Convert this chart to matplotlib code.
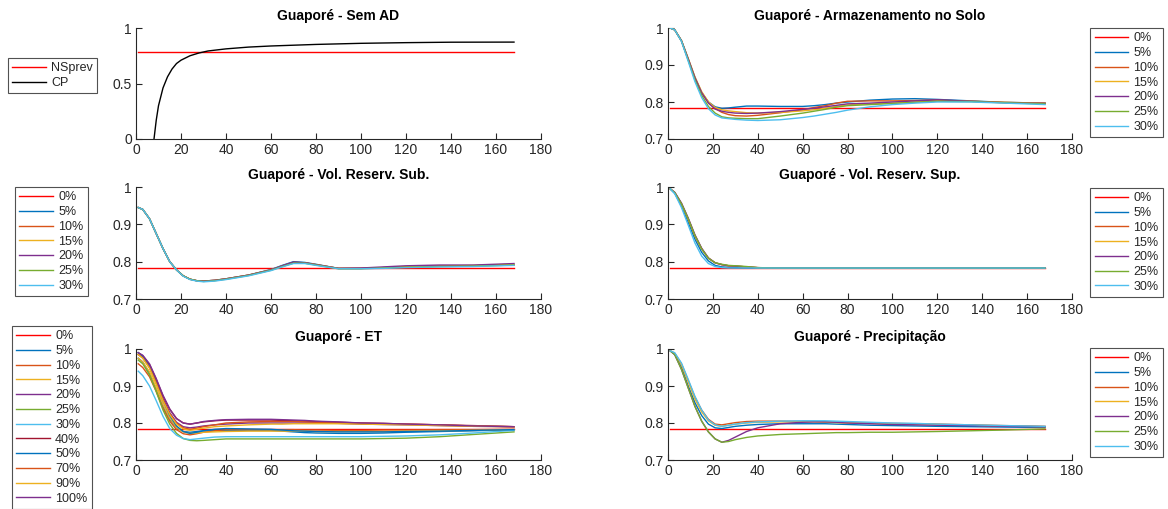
import matplotlib
matplotlib.use('Agg')
import matplotlib.pyplot as plt
from matplotlib.ticker import FormatStrFormatter

plt.rcParams['font.family'] = ['Liberation Sans', 'DejaVu Sans']

# matlab default color order
c_blue = '#0072BD'
c_orange = '#D95319'
c_yellow = '#EDB120'
c_purple = '#7E2F8E'
c_green = '#77AC30'
c_lblue = '#4DBEEE'
c_dred = '#A2142F'

ns_prev = 0.783

# ---- Sem AD
cp_x = [8, 9, 10, 12, 14, 16, 18, 20, 24, 28, 32, 40, 50, 60, 80, 100, 120, 140, 168]
cp_y = [0.0, 0.17, 0.3, 0.46, 0.56, 0.63, 0.68, 0.71, 0.75, 0.775, 0.793, 0.812, 0.828,
        0.838, 0.852, 0.862, 0.868, 0.872, 0.873]

# common hour axis for the other panels
t = [1, 3, 6, 9, 12, 15, 18, 21, 24, 27, 30, 35, 40, 50, 60, 65, 70, 75, 80, 90, 100,
     110, 120, 135, 150, 168]
t_ns = [1, 168]

labels7 = ['0%', '5%', '10%', '15%', '20%', '25%', '30%']
labels12 = ['0%', '5%', '10%', '15%', '20%', '25%', '30%', '40%', '50%', '70%', '90%', '100%']

# ---- Armazenamento no Solo
solo_05 = [1.0, 0.995, 0.965, 0.915, 0.865, 0.825, 0.80, 0.787, 0.783, 0.784, 0.786, 0.789, 0.789,
           0.788, 0.788, 0.79, 0.793, 0.797, 0.80, 0.805, 0.808, 0.809, 0.807, 0.803, 0.799, 0.797]
solo_10 = [1.0, 0.995, 0.965, 0.915, 0.865, 0.825, 0.80, 0.782, 0.772, 0.766, 0.763, 0.762, 0.764,
           0.771, 0.779, 0.785, 0.79, 0.797, 0.802, 0.803, 0.803, 0.804, 0.805, 0.802, 0.799, 0.797]
solo_15 = [1.0, 0.995, 0.966, 0.918, 0.868, 0.828, 0.80, 0.785, 0.779, 0.776, 0.774, 0.771, 0.77,
           0.772, 0.776, 0.779, 0.783, 0.788, 0.792, 0.795, 0.797, 0.80, 0.803, 0.802, 0.799, 0.796]
solo_20 = [1.0, 0.995, 0.966, 0.917, 0.866, 0.825, 0.797, 0.781, 0.775, 0.772, 0.77, 0.769, 0.77,
           0.774, 0.78, 0.783, 0.787, 0.791, 0.795, 0.797, 0.80, 0.803, 0.806, 0.802, 0.798, 0.796]
solo_25 = [1.0, 0.995, 0.965, 0.913, 0.86, 0.818, 0.788, 0.77, 0.76, 0.757, 0.756, 0.755, 0.755,
           0.762, 0.77, 0.775, 0.78, 0.786, 0.79, 0.793, 0.796, 0.799, 0.802, 0.801, 0.798, 0.795]
solo_30 = [1.0, 0.995, 0.964, 0.91, 0.855, 0.812, 0.782, 0.765, 0.757, 0.755, 0.753, 0.751, 0.75,
           0.752, 0.758, 0.762, 0.767, 0.772, 0.778, 0.787, 0.793, 0.797, 0.80, 0.80, 0.797, 0.793]

# ---- Vol. Reserv. Sub.
sub_05 = [0.945, 0.94, 0.915, 0.875, 0.835, 0.80, 0.778, 0.762, 0.753, 0.749, 0.748, 0.75, 0.754,
          0.764, 0.779, 0.79, 0.80, 0.798, 0.793, 0.782, 0.782, 0.784, 0.786, 0.788, 0.789, 0.792]
sub_10 = [0.945, 0.94, 0.915, 0.875, 0.835, 0.80, 0.778, 0.762, 0.753, 0.749, 0.748, 0.75, 0.754,
          0.764, 0.778, 0.788, 0.798, 0.797, 0.792, 0.782, 0.782, 0.784, 0.786, 0.788, 0.789, 0.792]
sub_15 = [0.945, 0.94, 0.915, 0.875, 0.835, 0.80, 0.778, 0.762, 0.753, 0.749, 0.748, 0.75, 0.754,
          0.764, 0.778, 0.788, 0.797, 0.796, 0.792, 0.782, 0.782, 0.784, 0.786, 0.788, 0.79, 0.793]
sub_20 = [0.945, 0.94, 0.915, 0.875, 0.835, 0.80, 0.778, 0.762, 0.753, 0.749, 0.748, 0.75, 0.754,
          0.764, 0.778, 0.789, 0.799, 0.797, 0.792, 0.782, 0.783, 0.786, 0.789, 0.791, 0.791, 0.795]
sub_25 = [0.945, 0.94, 0.915, 0.875, 0.835, 0.80, 0.778, 0.762, 0.753, 0.749, 0.747, 0.749, 0.753,
          0.763, 0.777, 0.787, 0.796, 0.796, 0.791, 0.781, 0.781, 0.783, 0.785, 0.787, 0.788, 0.791]
sub_30 = [0.945, 0.94, 0.915, 0.875, 0.835, 0.80, 0.778, 0.761, 0.752, 0.748, 0.746, 0.748, 0.752,
          0.762, 0.776, 0.786, 0.795, 0.795, 0.79, 0.781, 0.781, 0.782, 0.784, 0.786, 0.787, 0.79]

# ---- Vol. Reserv. Sup.
sup_05 = [0.995, 0.983, 0.95, 0.905, 0.86, 0.825, 0.802, 0.79, 0.786, 0.785, 0.784, 0.783, 0.783,
          0.783, 0.783, 0.783, 0.783, 0.783, 0.783, 0.783, 0.783, 0.783, 0.783, 0.783, 0.783, 0.783]
sup_10 = [0.995, 0.985, 0.955, 0.914, 0.869, 0.834, 0.809, 0.797, 0.792, 0.789, 0.788, 0.786, 0.784,
          0.783, 0.783, 0.783, 0.783, 0.783, 0.783, 0.783, 0.783, 0.783, 0.783, 0.783, 0.783, 0.783]
sup_15 = [0.995, 0.985, 0.955, 0.915, 0.87, 0.835, 0.81, 0.797, 0.792, 0.789, 0.788, 0.786, 0.784,
          0.783, 0.783, 0.783, 0.783, 0.783, 0.783, 0.783, 0.783, 0.783, 0.783, 0.783, 0.783, 0.783]
sup_20 = [0.995, 0.986, 0.957, 0.917, 0.872, 0.836, 0.81, 0.797, 0.792, 0.789, 0.788, 0.786, 0.784,
          0.783, 0.783, 0.783, 0.783, 0.783, 0.783, 0.783, 0.783, 0.783, 0.783, 0.783, 0.783, 0.783]
sup_25 = [0.995, 0.985, 0.955, 0.915, 0.87, 0.834, 0.809, 0.797, 0.793, 0.79, 0.789, 0.787, 0.784,
          0.783, 0.783, 0.783, 0.783, 0.783, 0.783, 0.783, 0.783, 0.783, 0.783, 0.783, 0.783, 0.783]
sup_30 = [0.995, 0.982, 0.945, 0.898, 0.85, 0.815, 0.795, 0.787, 0.784, 0.783, 0.783, 0.783, 0.783,
          0.783, 0.783, 0.783, 0.783, 0.783, 0.783, 0.783, 0.783, 0.783, 0.783, 0.783, 0.783, 0.783]

# ---- ET
et_05 = [0.975, 0.965, 0.935, 0.89, 0.845, 0.81, 0.787, 0.777, 0.775, 0.777, 0.779, 0.78, 0.78,
         0.78, 0.78, 0.778, 0.776, 0.774, 0.773, 0.772, 0.772, 0.773, 0.775, 0.777, 0.779, 0.782]
et_10 = [0.96, 0.95, 0.925, 0.885, 0.84, 0.805, 0.782, 0.771, 0.768, 0.771, 0.775, 0.779, 0.782,
         0.782, 0.782, 0.782, 0.782, 0.781, 0.781, 0.78, 0.78, 0.781, 0.781, 0.782, 0.782, 0.783]
et_15 = [0.975, 0.965, 0.938, 0.895, 0.85, 0.813, 0.788, 0.776, 0.772, 0.773, 0.775, 0.776, 0.777,
         0.778, 0.778, 0.778, 0.778, 0.778, 0.777, 0.777, 0.777, 0.777, 0.778, 0.779, 0.78, 0.782]
et_20 = [0.985, 0.978, 0.952, 0.91, 0.865, 0.828, 0.802, 0.79, 0.787, 0.789, 0.792, 0.795, 0.797,
         0.80, 0.80, 0.80, 0.80, 0.80, 0.80, 0.799, 0.797, 0.796, 0.795, 0.793, 0.791, 0.79]
et_25 = [0.97, 0.96, 0.93, 0.885, 0.835, 0.797, 0.772, 0.758, 0.753, 0.752, 0.753, 0.755, 0.757,
         0.757, 0.757, 0.757, 0.757, 0.757, 0.757, 0.757, 0.757, 0.758, 0.759, 0.763, 0.769, 0.776]
et_30 = [0.94, 0.928, 0.9, 0.86, 0.818, 0.785, 0.767, 0.758, 0.755, 0.757, 0.759, 0.762, 0.763,
         0.763, 0.763, 0.763, 0.763, 0.763, 0.763, 0.763, 0.763, 0.764, 0.765, 0.768, 0.773, 0.78]
et_40 = [0.99, 0.982, 0.958, 0.918, 0.873, 0.837, 0.812, 0.80, 0.797, 0.80, 0.803, 0.806, 0.808,
         0.808, 0.808, 0.807, 0.806, 0.805, 0.804, 0.802, 0.80, 0.799, 0.797, 0.795, 0.793, 0.79]
et_50 = [0.99, 0.98, 0.952, 0.908, 0.86, 0.82, 0.792, 0.777, 0.772, 0.775, 0.779, 0.783, 0.785,
         0.784, 0.783, 0.781, 0.779, 0.778, 0.777, 0.776, 0.776, 0.776, 0.777, 0.778, 0.78, 0.782]
et_70 = [0.985, 0.976, 0.95, 0.908, 0.862, 0.825, 0.80, 0.787, 0.783, 0.786, 0.79, 0.795, 0.80,
         0.803, 0.804, 0.804, 0.804, 0.803, 0.802, 0.80, 0.799, 0.798, 0.797, 0.795, 0.792, 0.79]
et_90 = [0.985, 0.975, 0.948, 0.905, 0.86, 0.823, 0.797, 0.784, 0.78, 0.783, 0.786, 0.79, 0.792,
         0.795, 0.797, 0.797, 0.798, 0.798, 0.798, 0.798, 0.797, 0.796, 0.795, 0.793, 0.791, 0.79]
et_100 = [0.99, 0.983, 0.96, 0.92, 0.875, 0.838, 0.812, 0.80, 0.797, 0.80, 0.804, 0.807, 0.809,
          0.81, 0.81, 0.809, 0.808, 0.807, 0.805, 0.803, 0.80, 0.799, 0.797, 0.795, 0.792, 0.79]

# ---- Precipitacao
pr_05 = [0.995, 0.985, 0.95, 0.90, 0.855, 0.82, 0.797, 0.787, 0.785, 0.788, 0.791, 0.794, 0.796,
         0.798, 0.798, 0.798, 0.798, 0.797, 0.796, 0.794, 0.793, 0.792, 0.791, 0.79, 0.789, 0.788]
pr_10 = [0.995, 0.988, 0.96, 0.915, 0.87, 0.835, 0.81, 0.797, 0.795, 0.798, 0.801, 0.804, 0.805,
         0.805, 0.804, 0.804, 0.803, 0.802, 0.801, 0.80, 0.799, 0.798, 0.797, 0.795, 0.793, 0.791]
pr_15 = [0.995, 0.988, 0.958, 0.912, 0.865, 0.83, 0.806, 0.794, 0.791, 0.794, 0.797, 0.80, 0.802,
         0.803, 0.803, 0.803, 0.802, 0.801, 0.80, 0.799, 0.798, 0.797, 0.796, 0.794, 0.792, 0.79]
pr_20 = [0.995, 0.985, 0.945, 0.895, 0.845, 0.805, 0.776, 0.757, 0.748, 0.753, 0.762, 0.777, 0.787,
         0.798, 0.802, 0.803, 0.803, 0.802, 0.80, 0.798, 0.796, 0.795, 0.794, 0.793, 0.791, 0.79]
pr_25 = [0.995, 0.985, 0.945, 0.895, 0.845, 0.805, 0.776, 0.757, 0.748, 0.75, 0.755, 0.761, 0.765,
         0.769, 0.771, 0.772, 0.773, 0.774, 0.774, 0.775, 0.775, 0.776, 0.777, 0.779, 0.781, 0.784]
pr_30 = [0.995, 0.99, 0.962, 0.918, 0.872, 0.835, 0.808, 0.795, 0.791, 0.794, 0.797, 0.801, 0.803,
         0.805, 0.806, 0.806, 0.806, 0.805, 0.804, 0.802, 0.80, 0.799, 0.797, 0.795, 0.793, 0.791]

colors7 = ['red', c_blue, c_orange, c_yellow, c_purple, c_green, c_lblue]
colors12 = colors7 + [c_dred, c_blue, c_orange, c_yellow, c_purple]

W, H = 1168, 509
fig = plt.figure(figsize=(W / 100, H / 100), dpi=100)


def px_axes(x0, x1, y0, y1):
    return fig.add_axes([x0 / W, 1 - y1 / H, (x1 - x0) / W, (y1 - y0) / H])


def style(ax, title, ylim, yticks):
    ax.set_xlim(0, 180)
    ax.set_xticks(range(0, 181, 20))
    ax.set_ylim(*ylim)
    ax.set_yticks(yticks)
    ax.yaxis.set_major_formatter(FormatStrFormatter('%g'))
    for s in ['top', 'right']:
        ax.spines[s].set_visible(False)
    for s in ['left', 'bottom']:
        ax.spines[s].set_color('#262626')
        ax.spines[s].set_linewidth(0.8)
    ax.tick_params(direction='in', length=4, width=0.8, colors='#262626', labelsize=10, pad=3)
    ax.set_title(title, fontsize=10, fontweight='bold', pad=6)


def put_legend(ax, x0, y0, loc='upper left'):
    leg = ax.legend(loc=loc, bbox_to_anchor=(x0 / W, 1 - y0 / H),
                    bbox_transform=fig.transFigure, fontsize=9, frameon=True, fancybox=False,
                    edgecolor='#262626', handlelength=2.7, handletextpad=0.4, labelspacing=0.22,
                    borderpad=0.35, borderaxespad=0)
    leg.get_frame().set_linewidth(0.8)
    for txt in leg.get_texts():
        txt.set_color('#262626')


lw = 1.0
xl, xr = 136, 541
rl, rr = 668, 1072

# top-left
ax = px_axes(xl, xr, 28, 139)
ax.plot(t_ns, [ns_prev, ns_prev], color='red', lw=lw, label='NSprev')
ax.plot(cp_x, cp_y, color='black', lw=lw, label='CP')
style(ax, 'Guaporé - Sem AD', (0, 1), [0, 0.5, 1])
put_legend(ax, 8, 58)

yt = [0.7, 0.8, 0.9, 1]

# top-right
ax = px_axes(rl, rr, 28, 139)
ax.plot(t_ns, [ns_prev, ns_prev], color=colors7[0], lw=lw, label=labels7[0])
for ys, c, lb in zip([solo_05, solo_10, solo_15, solo_20, solo_25, solo_30], colors7[1:], labels7[1:]):
    ax.plot(t, ys, color=c, lw=lw, label=lb)
style(ax, 'Guaporé - Armazenamento no Solo', (0.7, 1), yt)
put_legend(ax, 1163, 28, 'upper right')

# middle-left
ax = px_axes(xl, xr, 187, 299)
ax.plot(t_ns, [ns_prev, ns_prev], color=colors7[0], lw=lw, label=labels7[0])
for ys, c, lb in zip([sub_05, sub_10, sub_15, sub_20, sub_25, sub_30], colors7[1:], labels7[1:]):
    ax.plot(t, ys, color=c, lw=lw, label=lb)
style(ax, 'Guaporé - Vol. Reserv. Sub.', (0.7, 1), yt)
put_legend(ax, 15, 187)

# middle-right
ax = px_axes(rl, rr, 187, 299)
ax.plot(t_ns, [ns_prev, ns_prev], color=colors7[0], lw=lw, label=labels7[0])
for ys, c, lb in zip([sup_05, sup_10, sup_15, sup_20, sup_25, sup_30], colors7[1:], labels7[1:]):
    ax.plot(t, ys, color=c, lw=lw, label=lb)
style(ax, 'Guaporé - Vol. Reserv. Sup.', (0.7, 1), yt)
put_legend(ax, 1163, 188, 'upper right')

# bottom-left
ax = px_axes(xl, xr, 349, 460)
ax.plot(t_ns, [ns_prev, ns_prev], color=colors12[0], lw=lw, label=labels12[0])
et_all = [et_05, et_10, et_15, et_20, et_25, et_30, et_40, et_50, et_70, et_90, et_100]
for ys, c, lb in zip(et_all, colors12[1:], labels12[1:]):
    ax.plot(t, ys, color=c, lw=lw, label=lb)
style(ax, 'Guaporé - ET', (0.7, 1), yt)
put_legend(ax, 12, 326)

# bottom-right
ax = px_axes(rl, rr, 349, 460)
ax.plot(t_ns, [ns_prev, ns_prev], color=colors7[0], lw=lw, label=labels7[0])
for ys, c, lb in zip([pr_05, pr_10, pr_15, pr_20, pr_25, pr_30], colors7[1:], labels7[1:]):
    ax.plot(t, ys, color=c, lw=lw, label=lb)
style(ax, 'Guaporé - Precipitação', (0.7, 1), yt)
put_legend(ax, 1163, 348, 'upper right')

fig.savefig('out.png', dpi=100, facecolor='white')
